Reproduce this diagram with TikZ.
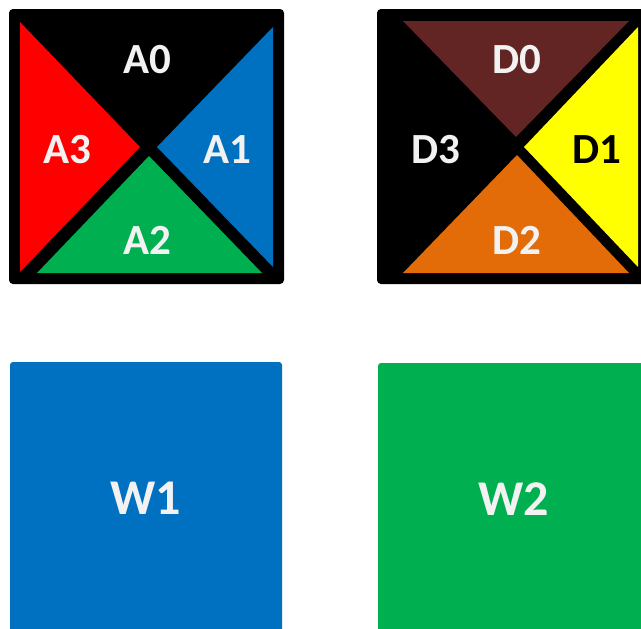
\documentclass[tikz,border=0pt]{standalone}
\usepackage{fontspec}
\setmainfont{Carlito}
\usetikzlibrary{positioning}
\definecolor{aRed}{HTML}{FF0000}
\definecolor{aBlue}{HTML}{0070C0}
\definecolor{aGreen}{HTML}{00B050}
\definecolor{dBrown}{HTML}{632523}
\definecolor{dYellow}{HTML}{FFFF00}
\definecolor{dOrange}{HTML}{E36C09}
\definecolor{offwhite}{HTML}{F2F2F2}

\begin{document}
\begin{tikzpicture}[x=1pt, y=-1pt,
  tile/.style={fill=#1, rounded corners=4pt},
  lbl/.style={text=#1, font=\fontsize{43}{43}\selectfont\bfseries, inner sep=0pt},
  lbl/.default=offwhite,
  wbox/.style={rectangle, fill=#1, rounded corners=3pt, minimum width=272pt, minimum height=272pt, inner sep=0pt,
    text=offwhite, font=\fontsize{50}{50}\selectfont\bfseries}
]
  \useasboundingbox (0,0) rectangle (641,629);

  % A square
  \fill[tile=black] (9,9) rectangle (284,284);
  \fill[aRed] (20,22) -- (140,147) -- (20,272) -- cycle;
  \fill[aBlue] (273,27) -- (157,147) -- (273,267) -- cycle;
  \fill[aGreen] (37,273) -- (149,156) -- (262,273) -- cycle;
  \node[lbl] (a0) at (147,60) {A0};
  \node[lbl] (a1) at (227,150) {A1};
  \node[lbl] (a2) at (147,240) {A2};
  \node[lbl] (a3) at (67,150) {A3};

  % D square
  \fill[tile=black] (377,9) rectangle (652,284);
  \fill[dBrown] (403,21) -- (629,21) -- (516,137) -- cycle;
  \fill[dYellow] (638,27) -- (524,147) -- (638,267) -- cycle;
  \fill[dOrange] (403,273) -- (517,155) -- (629,273) -- cycle;
  \node[lbl] (d0) at (517,60) {D0};
  \node[lbl=black] (d1) at (597,150) {D1};
  \node[lbl] (d2) at (517,240) {D2};
  \node[lbl] (d3) at (436,150) {D3};

  % W squares
  \node[wbox=aBlue] (w1) at (146,498) {W1};
  \node[wbox=aGreen] (w2) at (514,499) {W2};
\end{tikzpicture}
\end{document}
